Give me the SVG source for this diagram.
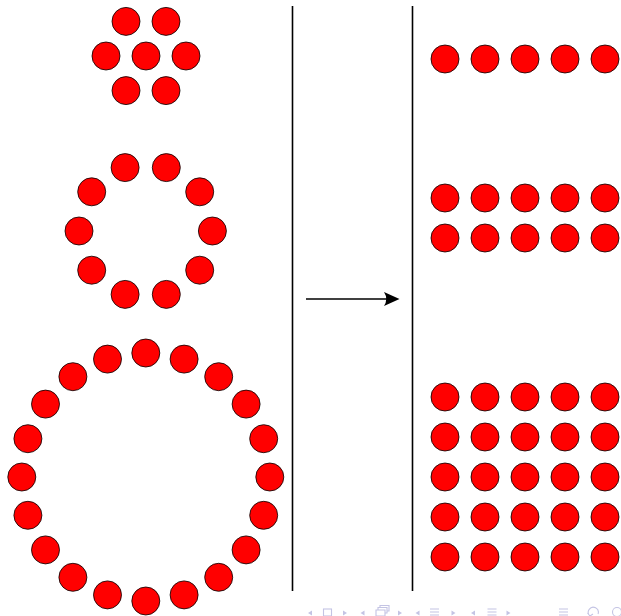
<svg xmlns="http://www.w3.org/2000/svg" width="621" height="616" viewBox="0 0 621 616">
<style>
.b{fill:#ff0000;stroke:#000;stroke-width:0.8}
.sep{stroke:#000;stroke-width:1.6;fill:none}
.nav{fill:#c4c4e4;stroke:none}
.navs{fill:none;stroke:#c4c4e4;stroke-width:1.1}
</style>
<defs>
<circle id="c" r="14" class="b"/>
</defs>
<rect width="621" height="616" fill="#fff"/>
<g id="hexCluster">
<use href="#c" x="126" y="21.4"/><use href="#c" x="166" y="21.4"/>
<use href="#c" x="106" y="56"/><use href="#c" x="146" y="56"/><use href="#c" x="186" y="56"/>
<use href="#c" x="126" y="90.6"/><use href="#c" x="166" y="90.6"/>
</g>
<g id="ring10">
<use href="#c" x="166.3" y="167.6"/><use href="#c" x="199.7" y="191.8"/><use href="#c" x="212.4" y="231"/>
<use href="#c" x="199.7" y="270.2"/><use href="#c" x="166.3" y="294.4"/><use href="#c" x="125.1" y="294.4"/>
<use href="#c" x="91.7" y="270.2"/><use href="#c" x="79" y="231"/><use href="#c" x="91.7" y="191.8"/>
<use href="#c" x="125.1" y="167.6"/>
</g>
<g id="ring20">
<use href="#c" x="145.8" y="353"/><use href="#c" x="184.1" y="359.1"/><use href="#c" x="218.7" y="376.7"/>
<use href="#c" x="246.1" y="404.1"/><use href="#c" x="263.7" y="438.7"/><use href="#c" x="269.8" y="477"/>
<use href="#c" x="263.7" y="515.3"/><use href="#c" x="246.1" y="549.9"/><use href="#c" x="218.7" y="577.3"/>
<use href="#c" x="184.1" y="594.9"/><use href="#c" x="145.8" y="601"/><use href="#c" x="107.5" y="594.9"/>
<use href="#c" x="72.9" y="577.3"/><use href="#c" x="45.5" y="549.9"/><use href="#c" x="27.9" y="515.3"/>
<use href="#c" x="21.8" y="477"/><use href="#c" x="27.9" y="438.7"/><use href="#c" x="45.5" y="404.1"/>
<use href="#c" x="72.9" y="376.7"/><use href="#c" x="107.5" y="359.1"/>
</g>
<g id="separators">
<line class="sep" x1="292.5" y1="6" x2="292.5" y2="591"/>
<line class="sep" x1="412.5" y1="6" x2="412.5" y2="591"/>
</g>
<g id="connectors">
<line x1="306" y1="299" x2="390" y2="299" stroke="#000" stroke-width="1.3"/>
<path d="M399.5,299 L384,292 Q388.5,299 384,306 Z" fill="#000"/>
</g>
<g id="row1x5">
<use href="#c" x="445" y="59"/><use href="#c" x="485" y="59"/><use href="#c" x="525" y="59"/><use href="#c" x="565" y="59"/><use href="#c" x="605" y="59"/>
</g>
<g id="grid2x5">
<use href="#c" x="445" y="198"/><use href="#c" x="485" y="198"/><use href="#c" x="525" y="198"/><use href="#c" x="565" y="198"/><use href="#c" x="605" y="198"/>
<use href="#c" x="445" y="238"/><use href="#c" x="485" y="238"/><use href="#c" x="525" y="238"/><use href="#c" x="565" y="238"/><use href="#c" x="605" y="238"/>
</g>
<g id="grid5x5">
<use href="#c" x="445" y="397"/><use href="#c" x="485" y="397"/><use href="#c" x="525" y="397"/><use href="#c" x="565" y="397"/><use href="#c" x="605" y="397"/>
<use href="#c" x="445" y="437"/><use href="#c" x="485" y="437"/><use href="#c" x="525" y="437"/><use href="#c" x="565" y="437"/><use href="#c" x="605" y="437"/>
<use href="#c" x="445" y="477"/><use href="#c" x="485" y="477"/><use href="#c" x="525" y="477"/><use href="#c" x="565" y="477"/><use href="#c" x="605" y="477"/>
<use href="#c" x="445" y="517"/><use href="#c" x="485" y="517"/><use href="#c" x="525" y="517"/><use href="#c" x="565" y="517"/><use href="#c" x="605" y="517"/>
<use href="#c" x="445" y="557"/><use href="#c" x="485" y="557"/><use href="#c" x="525" y="557"/><use href="#c" x="565" y="557"/><use href="#c" x="605" y="557"/>
</g>
<g id="navigation">
<path class="nav" d="M308,613 L312,610.5 L312,615.5 Z"/>
<rect class="navs" x="323.5" y="609" width="8" height="7"/>
<path class="nav" d="M347,613 L343,610.5 L343,615.5 Z"/>
<path class="nav" d="M360.5,613 L364.5,610.5 L364.5,615.5 Z"/>
<path class="navs" d="M376,616 V610 H385 V616 Z M378,610 V607.5 H387 V613 H385 M380,607.5 V605.5 H389 V611 H387"/>
<path class="nav" d="M402,613 L398,610.5 L398,615.5 Z"/>
<path class="nav" d="M415.5,613 L419.5,610.5 L419.5,615.5 Z"/>
<path class="navs" d="M430,609 H439 M430,612 H439 M430,615 H439"/>
<path class="nav" d="M455.5,613 L451.5,610.5 L451.5,615.5 Z"/>
<path class="nav" d="M471,613 L475,610.5 L475,615.5 Z"/>
<path class="navs" d="M487.5,609 H496.5 M487.5,612 H496.5 M487.5,615 H496.5"/>
<path class="nav" d="M510.5,613 L506.5,610.5 L506.5,615.5 Z"/>
<path class="navs" d="M559,609 H568 M559,612 H568 M559,615 H568"/>
<path class="navs" d="M590,616 A5,5 0 1 1 598,614 M587.5,613 L590,616 L593,614"/>
<circle class="navs" cx="617" cy="612" r="4.5"/>
</g>
</svg>
